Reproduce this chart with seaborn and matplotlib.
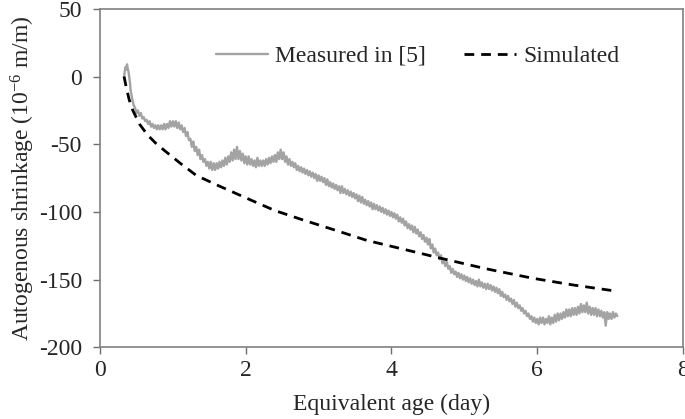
import numpy as np
import pandas as pd
import matplotlib
matplotlib.use("Agg")
import matplotlib.pyplot as plt
import seaborn as sns

# Measured autogenous shrinkage, start-up part
early_age = [0.33, 0.34, 0.35, 0.36, 0.37, 0.38, 0.39, 0.40, 0.41, 0.42]
early_shrinkage = [0, 4, 7, 5, 9, 6, 4, 0, -4, -10]

# then sampled every 0.02 day from 0.44 day (one row = 0.2 day)
measured_start = 0.44
measured_step = 0.02
measured_shrinkage = [
    -16, -21, -23, -27, -25, -29, -27, -31, -30, -33,
    -32, -35, -33, -37, -35, -38, -36, -39, -36, -39,
    -36, -39, -35, -39, -35, -38, -33, -37, -33, -37,
    -33, -38, -34, -39, -36, -41, -38, -44, -41, -47,
    -46, -52, -48, -55, -52, -58, -54, -61, -58, -63,
    -61, -66, -63, -68, -63, -69, -64, -69, -64, -68,
    -63, -67, -62, -66, -60, -65, -59, -63, -56, -62,
    -54, -61, -52, -61, -55, -62, -57, -64, -59, -65,
    -59, -65, -61, -66, -62, -67, -60, -66, -62, -66,
    -62, -66, -61, -65, -60, -64, -59, -63, -58, -63,
    -56, -61, -54, -61, -56, -63, -59, -65, -61, -66,
    -63, -67, -64, -69, -66, -70, -67, -71, -68, -72,
    -69, -73, -70, -74, -71, -75, -72, -77, -73, -77,
    -74, -78, -75, -80, -76, -81, -78, -82, -79, -83,
    -80, -84, -81, -86, -81, -86, -83, -87, -84, -88,
    -85, -89, -86, -90, -87, -92, -88, -93, -89, -94,
    -91, -95, -92, -96, -93, -98, -94, -98, -95, -99,
    -96, -100, -97, -101, -98, -102, -99, -103, -100, -104,
    -101, -105, -102, -107, -104, -108, -105, -110, -107, -112,
    -109, -113, -110, -115, -111, -116, -113, -118, -115, -120,
    -117, -122, -119, -124, -120, -127, -124, -130, -127, -132,
    -130, -135, -132, -138, -135, -140, -137, -142, -140, -145,
    -142, -146, -144, -148, -145, -149, -146, -150, -147, -151,
    -148, -152, -149, -153, -150, -154, -151, -155, -150, -155,
    -152, -156, -153, -157, -153, -157, -154, -158, -155, -159,
    -156, -160, -157, -162, -159, -163, -161, -165, -162, -166,
    -164, -168, -165, -170, -167, -171, -169, -173, -171, -175,
    -173, -177, -175, -179, -177, -181, -178, -182, -179, -183,
    -178, -182, -178, -183, -179, -182, -177, -183, -178, -182,
    -176, -181, -175, -180, -175, -179, -174, -178, -172, -177,
    -172, -177, -171, -176, -171, -176, -170, -175, -168, -174,
    -169, -174, -167, -175, -170, -176, -171, -176, -171, -177,
    -172, -177, -173, -178, -174, -184, -174, -179, -175, -179,
    -174, -178, -175, -177,
]

# Simulated curve
sim_age = [0.33, 0.36, 0.40, 0.45, 0.54, 0.65, 0.76, 0.87, 1.10, 1.32, 1.60, 2.06,
           2.40, 2.79, 3.20, 3.66, 4.20, 4.66, 5.30, 5.94, 6.50, 7.02, 7.10]
sim_shrinkage = [0, -8, -17, -25, -35, -43, -49, -54, -64, -73, -80, -91,
                 -99, -106, -113, -121, -128, -134, -142, -149, -154, -158, -158.5]

dense_age = measured_start + measured_step * np.arange(len(measured_shrinkage))
measured = pd.DataFrame({
    "age": np.concatenate([early_age, dense_age]),
    "shrinkage": np.concatenate([early_shrinkage, measured_shrinkage]),
})
simulated = pd.DataFrame({"age": sim_age, "shrinkage": sim_shrinkage})

sns.set_style("ticks")
plt.rcParams["font.family"] = ["Liberation Serif", "DejaVu Serif"]
plt.rcParams["mathtext.default"] = "regular"
plt.rcParams["axes.unicode_minus"] = False

fig = plt.figure(figsize=(6.85, 4.19), dpi=100)
ax = fig.add_axes([0.146, 0.171, 0.851, 0.808])

sns.lineplot(data=measured, x="age", y="shrinkage", ax=ax, color="#a3a3a3",
             linewidth=1.7, sort=False, estimator=None, label="Measured in [5]")
sns.lineplot(data=simulated, x="age", y="shrinkage", ax=ax, color="black",
             linewidth=2.0, sort=False, estimator=None, label="Simulated")
ax.lines[1].set_dashes([3.5, 2.5])

ax.set_xlim(0, 8)
ax.set_ylim(-200, 50)
ax.set_xticks([0, 2, 4, 6, 8])
ax.set_yticks([-200, -150, -100, -50, 0, 50])
ax.tick_params(axis="both", labelsize=17, direction="out", length=5, width=1,
               color="#707070")
ax.tick_params(axis="y", pad=8)
ax.tick_params(axis="x", pad=4)
for side in ["left", "right", "top", "bottom"]:
    ax.spines[side].set_color("#808080")
    ax.spines[side].set_linewidth(1.2)

ax.set_xlabel("Equivalent age (day)", fontsize=17, labelpad=9)
ax.set_ylabel("Autogenous shrinkage (10$^{-6}$ m/m)", fontsize=17, labelpad=1)

ax.legend(loc="center", bbox_to_anchor=(0.545, 0.86), ncol=2, frameon=False,
          fontsize=17, handlelength=2.2, columnspacing=1.6, handletextpad=0.3)

fig.savefig("out.png", dpi=100)
